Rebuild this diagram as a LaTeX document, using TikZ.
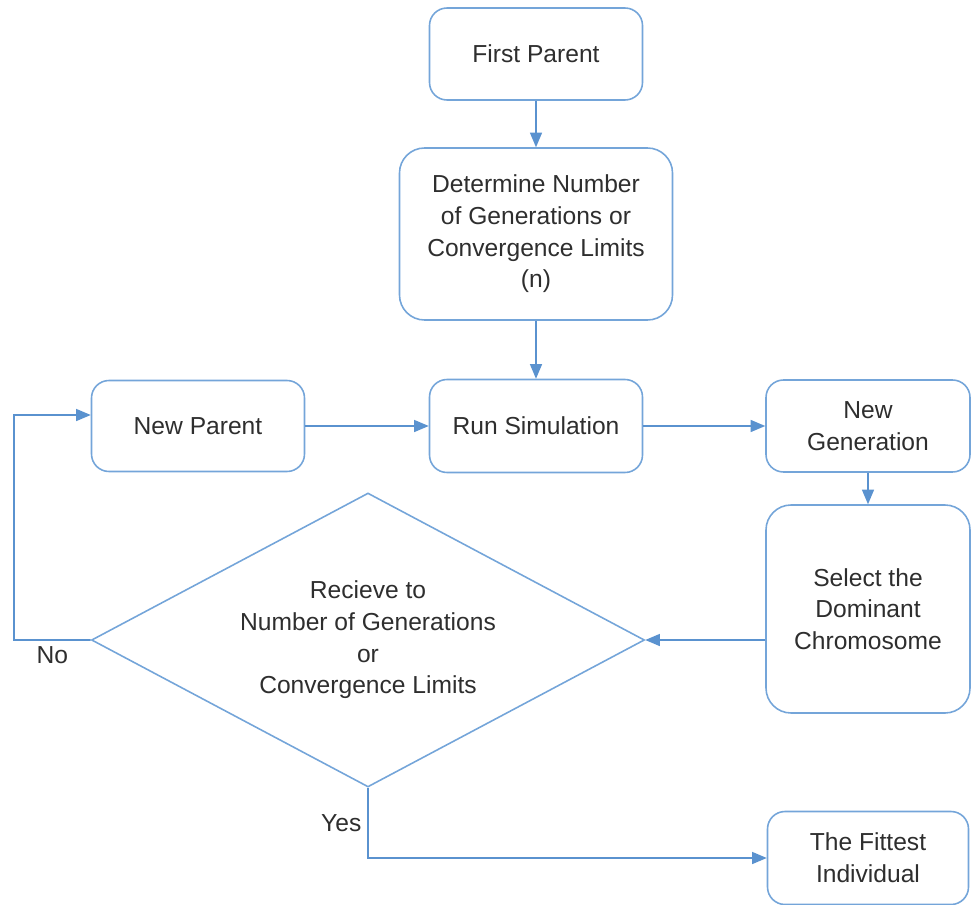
\documentclass[tikz,border=0pt]{standalone}
\usepackage{xcolor}
\usepackage{tikz}
\usepackage{fontspec}
\setmainfont{Liberation Sans}
\definecolor{frameBlue}{HTML}{74A5D9}
\definecolor{arrowBlue}{HTML}{5A92CF}
\definecolor{inkGrey}{HTML}{2E2E2E}
\usetikzlibrary{arrows, shapes.geometric}
\tikzstyle{block} = [rectangle, draw = frameBlue, line width = 0.9pt, rounded corners = 0.35cm, text = inkGrey, align = center, minimum width = 4.26cm, minimum height = 1.84cm]
\tikzstyle{bigblock} = [block, rounded corners = 0.5cm]
\tikzstyle{decision} = [diamond, draw = frameBlue, line width = 0.9pt, text = inkGrey, align = center, aspect = 1.88, inner sep = 0pt, minimum width = 11.06cm, minimum height = 5.88cm]
\tikzstyle{line} = [draw = arrowBlue, line width = 0.9pt, ->, >= triangle 45]
\tikzstyle{noblock} = [rectangle, draw = none]
\tikzstyle{tag} = [text = inkGrey]

\begin{document}
\begin{tikzpicture}[node distance = 1cm, font = \fontsize{14}{18}\selectfont]
        \useasboundingbox (0,0) rectangle (19.42,-18.1);
        \node(FP) [block] at (10.72,-1.08) {First Parent};
        \node(Det) [bigblock, below of = FP, node distance = 3.6 cm, minimum width = 5.46cm, minimum height = 3.44cm] {Determine Number\\of Generations or\\Convergence Limits\\(n)};
        \node(Run) [block, below of = Det, node distance = 3.84 cm, minimum height = 1.86cm] {Run Simulation};
        \node(NP) [block, left of = Run, node distance = 6.76 cm, minimum height = 1.82cm] {New Parent};
        \node(NG) [block, right of = Run, node distance = 6.64 cm, minimum width = 4.08cm] {New\\Generation};
        \node(Sel) [bigblock, below of = NG, node distance = 3.66 cm, minimum width = 4.08cm, minimum height = 4.16cm] {Select the\\Dominant\\Chromosome};
        \node(Fit) [block, below of = Sel, node distance = 4.98 cm, minimum width = 4.02cm, minimum height = 1.86cm] {The Fittest\\Individual};
        \node(belowofRun) [noblock, below of = Run, node distance = 4.28 cm]{};
        \node(Dec) [decision, left of = belowofRun, node distance = 3.36 cm] {Recieve to\\Number of Generations\\or\\Convergence Limits};
        \coordinate(leftofDec) at (0.28,-12.8);
        \draw[line] (FP) -- (Det);
        \draw[line] (Det) -- (Run);
        \draw[line] (NP) -- (Run);
        \draw[line] (Run) -- (NG);
        \draw[line] (NG) -- (Sel);
        \draw[line] (Sel.west |- Dec.east) -- (Dec.east);
        \draw[line] (Dec.west) -- node[tag, below]{No} (leftofDec) |- ([yshift = 0.22cm]NP.west);
        \draw[line] (Dec.south) |- node[tag, left, pos = 0.25]{Yes} (Fit.west);
    \end{tikzpicture}
\end{document}
